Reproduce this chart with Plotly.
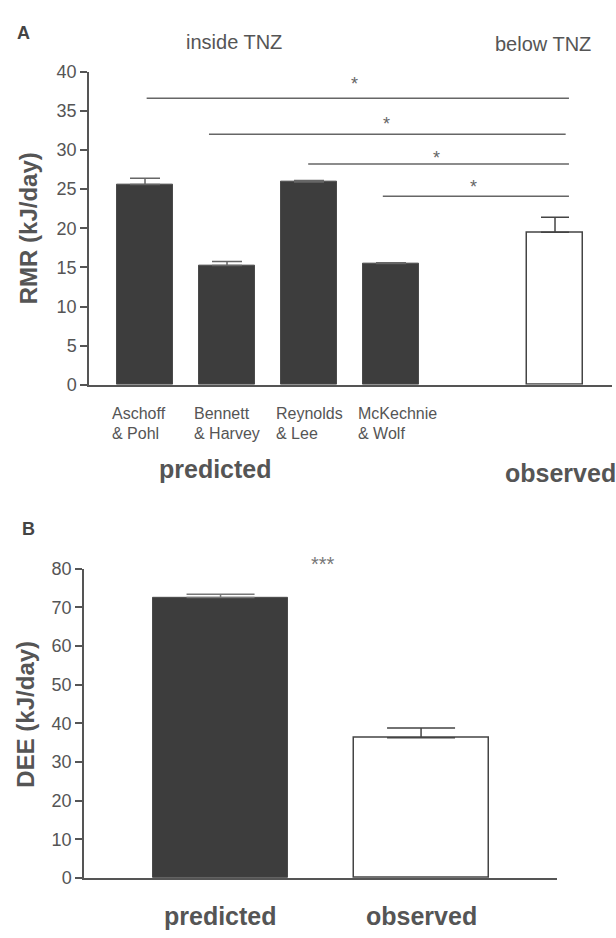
import plotly.graph_objects as go

W, H = 616, 938

# ---------------- Panel A data ----------------
rmr_label_line1 = ["Aschoff", "Bennett", "Reynolds", "McKechnie"]
rmr_label_line2 = ["& Pohl", "& Harvey", "& Lee", "& Wolf"]
rmr_pred_pos = [0, 1, 2, 3]
rmr_pred = [25.6, 15.25, 25.9, 15.5]
rmr_pred_err = [0.8, 0.5, 0.2, 0.1]
rmr_obs_pos = [5]
rmr_obs = [19.5]
rmr_obs_err = [1.9]

sig_x0 = [0.02, 0.78, 1.99, 2.9]
sig_x1 = [5.17, 5.13, 5.17, 5.17]
sig_y = [36.6, 32.0, 28.2, 24.1]
sig_star_x = [2.56, 2.94, 3.55, 4.01]
sig_star_y = [39.1, 33.9, 29.6, 25.9]

# ---------------- Panel B data ----------------
dee_labels = ["predicted", "observed"]
dee_pos = [0, 1]
dee_vals = [72.6, 36.3]
dee_err = [0.8, 2.5]
dee_star_text = "***"

DARK = "#3d3d3d"
AX = "#555555"
TXT = "#555555"
FONT = "Liberation Sans, Arial, sans-serif"


def py(y):
    return 1 - y / H


def px(x):
    return x / W


fig = go.Figure()

# Panel A bars
fig.add_trace(go.Bar(
    x=rmr_pred_pos, y=rmr_pred, width=0.683,
    marker=dict(color=DARK, line=dict(color="#4a4a4a", width=1)),
    error_y=dict(type="data", array=rmr_pred_err, arrayminus=[0] * len(rmr_pred),
                 symmetric=False, color="#666", thickness=1.5, width=15),
    xaxis="x", yaxis="y", showlegend=False))
fig.add_trace(go.Bar(
    x=rmr_obs_pos, y=rmr_obs, width=0.683,
    marker=dict(color="white", line=dict(color="#444", width=1.5)),
    error_y=dict(type="data", array=rmr_obs_err, arrayminus=[0],
                 symmetric=False, color="#444", thickness=1.5, width=14),
    xaxis="x", yaxis="y", showlegend=False))

# Panel B bars
fig.add_trace(go.Bar(
    x=[dee_pos[0]], y=[dee_vals[0]], width=0.673,
    marker=dict(color=DARK, line=dict(color="#4a4a4a", width=1)),
    error_y=dict(type="data", array=[dee_err[0]], arrayminus=[0],
                 symmetric=False, color="#777", thickness=1.5, width=34),
    xaxis="x2", yaxis="y2", showlegend=False))
fig.add_trace(go.Bar(
    x=[dee_pos[1]], y=[dee_vals[1]], width=0.673,
    marker=dict(color="white", line=dict(color="#444", width=1.5)),
    error_y=dict(type="data", array=[dee_err[1]], arrayminus=[0],
                 symmetric=False, color="#444", thickness=1.5, width=34),
    xaxis="x2", yaxis="y2", showlegend=False))

# significance lines
shapes = []
for x0, x1, y in zip(sig_x0, sig_x1, sig_y):
    shapes.append(dict(type="line", xref="x", yref="y", x0=x0, x1=x1, y0=y, y1=y,
                       line=dict(color="#666", width=1.5)))

ann = []


def pann(x, y, text, size, color=TXT, xanchor="center", angle=0):
    ann.append(dict(x=px(x), y=py(y), xref="paper", yref="paper", text=text,
                    xanchor=xanchor, yanchor="middle", textangle=angle,
                    showarrow=False, font=dict(size=size, color=color, family=FONT)))


for sx, sy in zip(sig_star_x, sig_star_y):
    ann.append(dict(x=sx, y=sy, xref="x", yref="y", text="*", showarrow=False,
                    xanchor="center", yanchor="middle",
                    font=dict(size=18, color="#666", family=FONT), yshift=-5))

# significance stars panel B (above the axis range, so placed in paper space)
pann(323, 566, dee_star_text, 20, color="#777")

# category labels panel A
for p, l1, l2 in zip(rmr_pred_pos, rmr_label_line1, rmr_label_line2):
    for txt, yy in ((l1, 412), (l2, 433)):
        ann.append(dict(x=p - 0.43, y=py(yy), xref="x", yref="paper", text=txt,
                        xanchor="left", yanchor="middle", showarrow=False,
                        font=dict(size=16, color=TXT, family=FONT)))

# group labels panel A
pann(215, 469, "<b>predicted</b>", 25)
pann(503, 473, "<b>observed</b>", 25, xanchor="left")
pann(234, 33, "inside TNZ", 20)
pann(543, 35, "below TNZ", 20)

# panel letters
pann(23, 23, "<b>A</b>", 18, color="#444")
pann(28, 530, "<b>B</b>", 18, color="#444")

# y-axis titles
pann(28, 223, "<b>RMR (kJ/day)</b>", 24, angle=-90)
pann(26, 720, "<b>DEE (kJ/day)</b>", 24, angle=-90)

# panel B x labels
for p, lab in zip(dee_pos, dee_labels):
    ann.append(dict(x=p, y=py(926), xref="x2", yref="paper", text="<b>%s</b>" % lab,
                    xanchor="center", yanchor="middle",
                    showarrow=False, font=dict(size=25, color=TXT, family=FONT)))

axis_common = dict(showline=True, linecolor=AX, linewidth=1.5, showgrid=False,
                   zeroline=False)

fig.update_layout(
    width=W, height=H,
    margin=dict(l=0, r=0, t=0, b=0),
    paper_bgcolor="white", plot_bgcolor="white",
    font=dict(family=FONT, color=TXT),
    bargap=0,
    xaxis=dict(domain=[px(89), px(612)], range=[-0.683, 5.695], showticklabels=False,
               ticks="", anchor="y", **axis_common),
    yaxis=dict(domain=[py(383), py(63)], range=[0, 40], tickvals=[0, 5, 10, 15, 20, 25, 30, 35, 40],
               ticks="outside", ticklen=7, tickwidth=1.5, tickcolor=AX,
               tickfont=dict(size=18, color=TXT), anchor="x", **axis_common),
    xaxis2=dict(domain=[px(84), px(557)], range=[-0.681, 1.678], showticklabels=False,
                ticks="", anchor="y2", **axis_common),
    yaxis2=dict(domain=[py(887), py(571)], range=[0, 80], tickvals=[0, 10, 20, 30, 40, 50, 60, 70, 80],
                ticks="outside", ticklen=7, tickwidth=1.5, tickcolor=AX,
                tickfont=dict(size=18, color=TXT), anchor="x2", **axis_common),
    shapes=shapes,
    annotations=ann,
)

fig.write_html("out.html")
